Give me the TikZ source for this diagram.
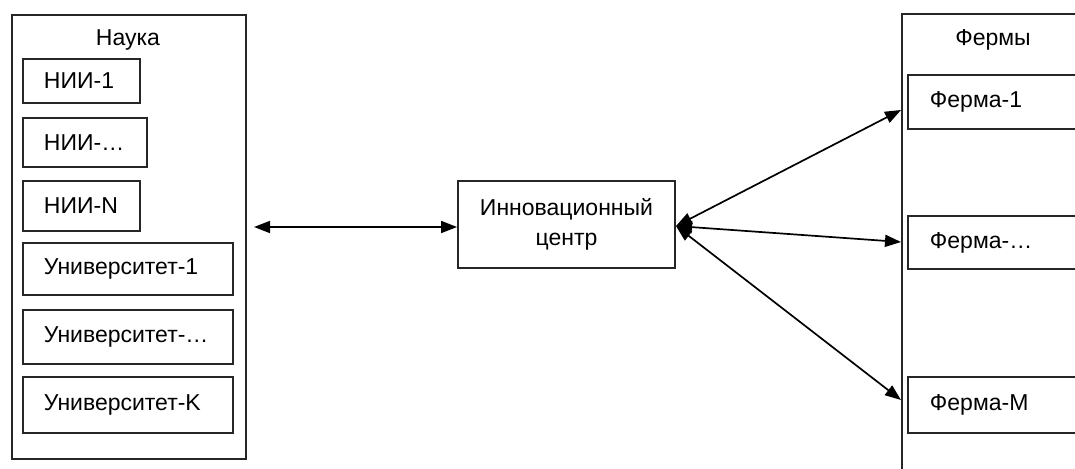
\documentclass[tikz,border=0pt]{standalone}
\usepackage{fontspec}
\setmainfont{Liberation Sans}
\usetikzlibrary{arrows.meta}
\begin{document}
\begin{tikzpicture}[x=1pt,y=-1pt,
  every node/.style={font=\fontsize{23}{30}\selectfont},
  ln/.style={line width=1.9pt, draw=black!85},
  outerbox/.style={ln, rectangle, anchor=north west, inner sep=0pt},
  itembox/.style={ln, rectangle, anchor=north west, inner xsep=0pt, inner ysep=0pt, align=left},
  conn/.style={line width=1.7pt, {Triangle[length=16pt,width=12pt]}-{Triangle[length=16pt,width=12pt]}},
  lbl/.style={inner sep=0pt}]
\useasboundingbox (0,0) rectangle (1075,468);
\fill[white] (0,0) rectangle (1075,468);
\begin{scope}
\clip (0,0) rectangle (1075,468);
% left group
\node[outerbox, minimum width=234pt, minimum height=444pt] (nauka) at (11,14) {};
\node[lbl] (naukat) at (128,40) {Наука};
\node[itembox, minimum width=117pt, minimum height=44pt, text width=117pt] (nii1) at (22,58) {\hspace*{21pt}НИИ-1};
\node[itembox, minimum width=124pt, minimum height=49pt, text width=124pt] (nii2) at (22,117) {\hspace*{21pt}НИИ-…};
\node[itembox, minimum width=117pt, minimum height=50pt, text width=117pt] (nii3) at (22,180) {\hspace*{21pt}НИИ-N};
\node[itembox, minimum width=210pt, minimum height=52pt, text width=210pt] (u1) at (22,242) {\hspace*{21pt}Университет-1};
\node[itembox, minimum width=210pt, minimum height=54pt, text width=210pt] (u2) at (22,309) {\hspace*{21pt}Университет-…};
\node[itembox, minimum width=210pt, minimum height=56pt, text width=210pt] (u3) at (22,376) {\hspace*{21pt}Университет-K};
% center
\node[ln, rectangle, minimum width=217pt, minimum height=87pt, align=center] (ic) at (566.5,224.5) {Инновационный\\центр};
% right group
\draw[ln] (1090,14) -- (902,14) -- (902,475);
\node[lbl] (fermy) at (993,40) {Фермы};
\node[itembox, minimum width=180pt, minimum height=54pt, text width=180pt] (f1) at (907,74) {\hspace*{22pt}Ферма-1};
\node[itembox, minimum width=180pt, minimum height=53pt, text width=180pt] (f2) at (907,215) {\hspace*{22pt}Ферма-…};
\node[itembox, minimum width=180pt, minimum height=56pt, text width=180pt] (f3) at (907,376) {\hspace*{22pt}Ферма-M};
\coordinate (t1) at (901,110);
\coordinate (t2) at (901,242);
\coordinate (t3) at (901,400);
\coordinate (src) at (676,226);
\coordinate (lt) at (254,227);
% connectors
\draw[conn] (lt) -- (ic.west |- lt);
\draw[conn] (src) -- (t1);
\draw[conn] (src) -- (t2);
\draw[conn] (src) -- (t3);
\end{scope}
\end{tikzpicture}
\end{document}
